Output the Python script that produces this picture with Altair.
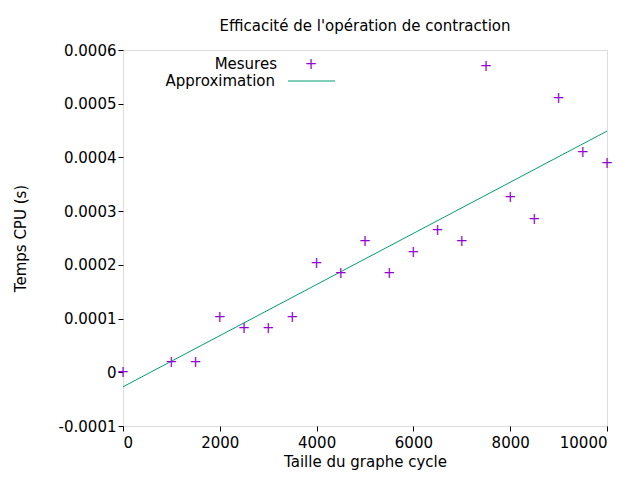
import altair as alt
import pandas as pd

sizes = [0,1000,1500,2000,2500,3000,3500,4000,4500,5000,5500,6000,6500,7000,7500,8000,8500,9000,9500,10000]
times = [0,0.00002,0.00002,0.000102,0.000082,0.000082,0.000102,0.000204,0.000184,0.000245,0.000184,0.000224,0.000265,0.000245,0.00057,0.000327,0.000286,0.00051,0.00041,0.00039]
fit_x = [0,10000]
fit_y = [-0.000027,0.000449]

pts = pd.DataFrame({"x": sizes, "y": times})
fit = pd.DataFrame({"x": fit_x, "y": fit_y})
one = pd.DataFrame({"a": [0]})

F = "DejaVu Sans"
xs = alt.Scale(domain=[0,10000], nice=False)
ys = alt.Scale(domain=[-0.0001,0.0006], nice=False)
xax = alt.Axis(title="Taille du graphe cycle", values=list(range(0,10001,2000)), grid=False, format="d",
               labelFont=F, titleFont=F, labelFontSize=15, titleFontSize=15, titleFontWeight="normal",
               labelColor="black", titleColor="black", domain=False, tickColor="black", labelPadding=4)
yax = alt.Axis(title="Temps CPU (s)", values=[-0.0001,0,0.0001,0.0002,0.0003,0.0004,0.0005,0.0006], grid=False,
               labelExpr="datum.value == 0 ? '0' : replace(format(datum.value, '.4f'), '\u2212', '-')",
               labelFont=F, titleFont=F, labelFontSize=15, titleFontSize=15, titleFontWeight="normal",
               labelColor="black", titleColor="black", domain=False, tickColor="black", titlePadding=30)

line = alt.Chart(fit).mark_line(color="#009e73", strokeWidth=1).encode(
    x=alt.X("x:Q", scale=xs, axis=xax), y=alt.Y("y:Q", scale=ys, axis=yax))
points = alt.Chart(pts).mark_text(text="+", color="#9400d3", fontSize=15, font=F, baseline="middle").encode(
    x=alt.X("x:Q", scale=xs), y=alt.Y("y:Q", scale=ys))

leg1 = alt.Chart(one).mark_text(text="Mesures", align="right", font=F, fontSize=15, baseline="middle").encode(
    x=alt.value(154), y=alt.value(14))
leg1p = alt.Chart(one).mark_text(text="+", color="#9400d3", font=F, fontSize=15, baseline="middle").encode(
    x=alt.value(188), y=alt.value(14))
leg2 = alt.Chart(one).mark_text(text="Approximation", align="right", font=F, fontSize=15, baseline="middle").encode(
    x=alt.value(152), y=alt.value(31))
leg2l = alt.Chart(one).mark_rule(color="#009e73").encode(
    x=alt.value(165), x2=alt.value(212), y=alt.value(31))

chart = alt.layer(line, points, leg1, leg1p, leg2, leg2l).properties(
    width=484, height=376, autosize=alt.AutoSizeParams(type="none"),
    padding={"left":115,"top":42,"right":25,"bottom":46},
    title=alt.TitleParams("Efficacité de l'opération de contraction", font=F, fontSize=15,
                          fontWeight="normal", offset=9)
).configure_view(stroke="black", strokeWidth=1).configure(background="white")

chart.save("out.html", embed_options={"renderer": "svg", "actions": False})
